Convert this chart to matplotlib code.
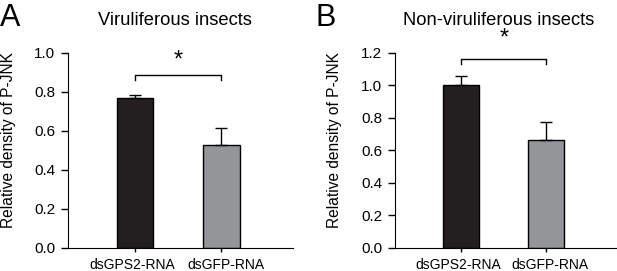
import matplotlib.pyplot as plt
from matplotlib.transforms import ScaledTranslation

plt.rcParams['font.family'] = ['Liberation Sans', 'DejaVu Sans']

groups = ["dsGPS2-RNA", "dsGFP-RNA"]
vir_mean = [0.77, 0.53]
vir_err = [0.015, 0.085]
nonvir_mean = [1.005, 0.665]
nonvir_err = [0.05, 0.11]
colors = ["#231f20", "#939598"]

fig = plt.figure(figsize=(6.17, 2.71), dpi=100)
axA = fig.add_axes([0.110, 0.085, 0.365, 0.72])
axB = fig.add_axes([0.640, 0.085, 0.360, 0.72])


def panel(ax, means, errs, ymax, brk_y, brk_drop, star_y, lab_x):
    x = range(len(groups))
    ax.bar(x, means, width=0.42, color=colors, edgecolor="black", linewidth=1.0, zorder=2)
    ax.errorbar(x, means, yerr=[[0, 0], errs], fmt="none", ecolor="black",
                elinewidth=1.0, capsize=4, capthick=1.0, zorder=3)
    ax.set_xlim(-0.78, 1.83)
    ax.set_ylim(0, ymax)
    ticks = [i * 0.2 for i in range(int(round(ymax / 0.2)) + 1)]
    ax.set_yticks(ticks)
    ax.set_yticklabels([f"{t:.1f}" for t in ticks], fontsize=11)
    ax.set_xticks(list(x))
    ax.set_xticklabels(groups, fontsize=10)
    ax.tick_params(axis="y", direction="out", length=5, width=1.0, pad=4)
    ax.tick_params(axis="x", direction="out", length=3, width=1.0, pad=4)
    # spread the two category labels a little, as in the original
    for lab, dx in zip(ax.get_xticklabels(), [-3, 4]):
        lab.set_transform(lab.get_transform() + ScaledTranslation(dx / 100, 0, fig.dpi_scale_trans))
    for s in ["top", "right"]:
        ax.spines[s].set_visible(False)
    ax.set_ylabel("Relative density of P-JNK", fontsize=11.2)
    ax.yaxis.set_label_coords(lab_x, 0.554)
    ax.plot([0, 0, 1, 1], [brk_y - brk_drop, brk_y, brk_y, brk_y - brk_drop],
            color="black", lw=1.0, clip_on=False)
    ax.text(0.5, star_y, "*", ha="center", va="center", fontsize=17)


panel(axA, vir_mean, vir_err, 1.0, 0.887, 0.025, 0.96, -0.232)
panel(axB, nonvir_mean, nonvir_err, 1.2, 1.163, 0.03, 1.29, -0.236)

fig.text(175 / 617, 1 - 25 / 271, "Viruliferous insects", ha="center", va="baseline", fontsize=13.2)
fig.text(499 / 617, 1 - 25 / 271, "Non-viruliferous insects", ha="center", va="baseline", fontsize=13.2)
fig.text(0 / 617, 1 - 26 / 271, "A", ha="left", va="baseline", fontsize=22)
fig.text(316 / 617, 1 - 26 / 271, "B", ha="left", va="baseline", fontsize=22)

fig.savefig("out.png", dpi=100)
